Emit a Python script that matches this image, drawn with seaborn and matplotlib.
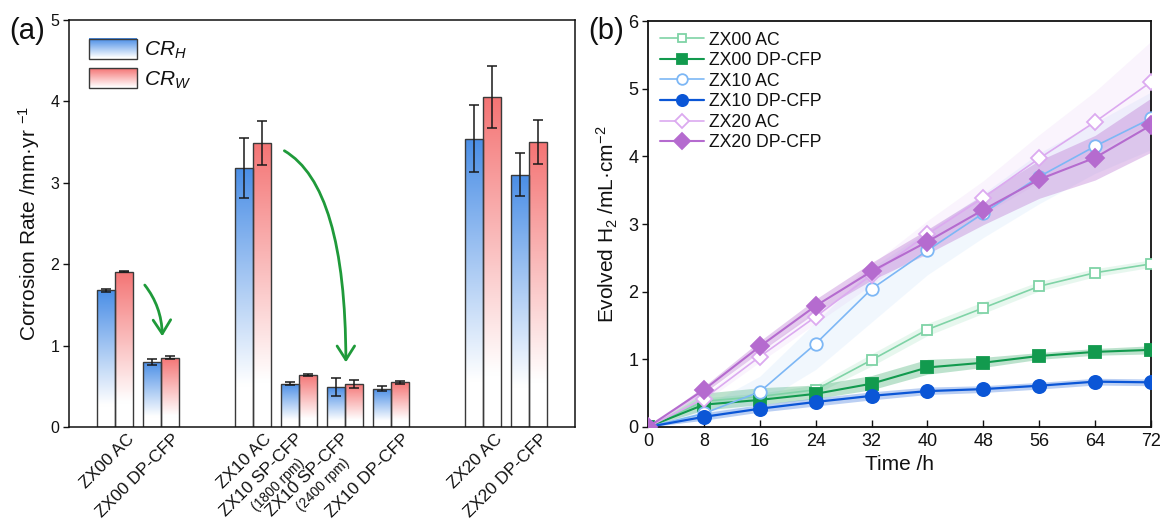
import numpy as np
import pandas as pd
import matplotlib
matplotlib.use("Agg")
import matplotlib.pyplot as plt
import matplotlib.transforms as mtransforms
import seaborn as sns
from matplotlib.colors import LinearSegmentedColormap, to_rgb
from matplotlib.legend_handler import HandlerBase
from matplotlib.patches import Rectangle

# ---------------- data: panel (a) ----------------
samples = ["ZX00 AC", "ZX00 DP-CFP", "ZX10 AC", "ZX10 SP-CFP", "ZX10 SP-CFP",
           "ZX10 DP-CFP", "ZX20 AC", "ZX20 DP-CFP"]
sample_notes = ["", "", "", "(1800 rpm)", "(2400 rpm)", "", "", ""]
alloy = ["ZX00", "ZX00", "ZX10", "ZX10", "ZX10", "ZX10", "ZX20", "ZX20"]
cr_h = [1.68, 0.80, 3.18, 0.53, 0.49, 0.47, 3.54, 3.10]
cr_h_err = [0.02, 0.04, 0.37, 0.02, 0.11, 0.03, 0.41, 0.26]
cr_w = [1.91, 0.85, 3.49, 0.64, 0.53, 0.55, 4.05, 3.50]
cr_w_err = [0.01, 0.02, 0.27, 0.01, 0.05, 0.02, 0.38, 0.27]

# ---------------- data: panel (b) ----------------
times = [0, 8, 16, 24, 32, 40, 48, 56, 64, 72]
zx00_ac = [0, 0.38, 0.45, 0.55, 0.99, 1.44, 1.76, 2.08, 2.28, 2.41]
zx00_dp = [0, 0.33, 0.40, 0.49, 0.64, 0.88, 0.95, 1.05, 1.11, 1.14]
zx10_ac = [0, 0.20, 0.52, 1.23, 2.04, 2.61, 3.16, 3.70, 4.15, 4.56]
zx10_dp = [0, 0.15, 0.27, 0.37, 0.46, 0.53, 0.56, 0.61, 0.67, 0.66]
zx20_ac = [0, 0.42, 1.04, 1.63, 2.25, 2.85, 3.39, 3.97, 4.51, 5.10]
zx20_dp = [0, 0.55, 1.19, 1.79, 2.30, 2.74, 3.21, 3.66, 3.98, 4.46]

zx00_ac_lo = [0, 0.33, 0.40, 0.49, 0.90, 1.35, 1.68, 2.01, 2.22, 2.36]
zx00_ac_hi = [0, 0.43, 0.50, 0.62, 1.08, 1.53, 1.85, 2.15, 2.34, 2.47]
zx00_dp_lo = [0, 0.25, 0.33, 0.42, 0.55, 0.78, 0.88, 1.00, 1.06, 1.08]
zx00_dp_hi = [0, 0.50, 0.58, 0.62, 0.76, 1.00, 1.03, 1.10, 1.16, 1.20]
zx10_ac_lo = [0, 0.10, 0.35, 0.85, 1.55, 2.25, 2.80, 3.30, 3.75, 4.10]
zx10_ac_hi = [0, 0.30, 0.75, 1.55, 2.35, 2.90, 3.45, 4.05, 4.50, 4.95]
zx10_dp_lo = [0, 0.10, 0.22, 0.31, 0.40, 0.48, 0.51, 0.56, 0.62, 0.61]
zx10_dp_hi = [0, 0.21, 0.33, 0.43, 0.52, 0.59, 0.61, 0.66, 0.72, 0.71]
zx20_ac_lo = [0, 0.37, 0.96, 1.53, 2.10, 2.65, 3.14, 3.62, 4.06, 4.50]
zx20_ac_hi = [0, 0.47, 1.12, 1.73, 2.40, 3.05, 3.64, 4.32, 4.96, 5.70]
zx20_dp_lo = [0, 0.50, 1.11, 1.69, 2.17, 2.56, 2.99, 3.38, 3.65, 4.06]
zx20_dp_hi = [0, 0.60, 1.27, 1.89, 2.43, 2.92, 3.43, 3.94, 4.31, 4.86]

series_names = ["ZX00 AC", "ZX00 DP-CFP", "ZX10 AC", "ZX10 DP-CFP", "ZX20 AC", "ZX20 DP-CFP"]

# ---------------- style ----------------
sns.set_theme(style="ticks")
plt.rcParams["font.family"] = ["Liberation Sans", "DejaVu Sans"]
plt.rcParams["mathtext.fontset"] = "custom"
plt.rcParams["mathtext.rm"] = "Liberation Sans"
plt.rcParams["mathtext.it"] = "Liberation Sans:italic"
plt.rcParams["axes.edgecolor"] = "#111111"
plt.rcParams["axes.linewidth"] = 1.1
for k in ["text.color", "axes.labelcolor", "xtick.color", "ytick.color"]:
    plt.rcParams[k] = "#111111"

BLUE = "#4a8ee6"
RED = "#f47474"

fig = plt.figure(figsize=(11.63, 5.19), dpi=100)
axA = fig.add_axes([0.0593, 0.1773, 0.4351, 0.7842])
axB = fig.add_axes([0.5572, 0.1773, 0.4325, 0.7822])

# ---------------- panel (a) ----------------
groups = list(dict.fromkeys(alloy))
pos = [i + groups.index(a) for i, a in enumerate(alloy)]
slot_names = [str(k) for k in range(max(pos) + 1)]
dfA = pd.DataFrame({
    "slot": [str(p) for p in pos] * 2,
    "val": cr_h + cr_w,
    "err": cr_h_err + cr_w_err,
    "kind": ["H"] * len(pos) + ["W"] * len(pos),
})
sns.barplot(data=dfA, x="slot", y="val", hue="kind", order=slot_names,
            hue_order=["H", "W"], palette={"H": BLUE, "W": RED}, saturation=1,
            errorbar=None, legend=False, width=0.8,
            edgecolor="#3a3a3a", linewidth=1.0, ax=axA)


def grad_cmap(color):
    return LinearSegmentedColormap.from_list(
        "g", [(0, "white"), (0.16, "white"), (1, color)])


cm_b, cm_r = grad_cmap(BLUE), grad_cmap(RED)
grad = np.linspace(0, 1, 256).reshape(-1, 1)
blue_rgb = np.array(to_rgb(BLUE))
red_rgb = np.array(to_rgb(RED))
bars = []
for patch in list(axA.patches):
    h = patch.get_height()
    if h <= 0 or not np.isfinite(h):
        continue
    fc = np.array(patch.get_facecolor()[:3])
    is_blue = np.linalg.norm(fc - blue_rgb) < np.linalg.norm(fc - red_rgb)
    bars.append((patch, is_blue))

ex, ey, ee = [], [], []
for patch, is_blue in bars:
    x0, y0 = patch.get_x(), patch.get_y()
    w, h = patch.get_width(), patch.get_height()
    im = axA.imshow(grad, extent=[x0, x0 + w, y0, y0 + h], origin="lower",
                    cmap=cm_b if is_blue else cm_r, aspect="auto", zorder=1.5,
                    interpolation="bicubic")
    im.set_clip_path(patch.get_path(), patch.get_transform())
    patch.set_facecolor("none")
    patch.set_zorder(2)
    xc = x0 + w / 2
    kind = "H" if is_blue else "W"
    slot = str(int(round(xc)))
    row = dfA[(dfA["kind"] == kind) & (dfA["slot"] == slot)]
    ex.append(xc)
    ey.append(h)
    ee.append(float(row["err"].iloc[0]))
axA.errorbar(ex, ey, yerr=ee, fmt="none", ecolor="#1a1a1a", elinewidth=1.1,
             capsize=3.8, capthick=1.1, zorder=3)

# arrows
arrow_kw = dict(arrowstyle="->,head_length=0.55,head_width=0.35", color="#1f9a3a",
                lw=2.0, mutation_scale=18)
axA.annotate("", xy=(1.03, 1.08), xytext=(0.61, 1.77),
             arrowprops=dict(connectionstyle="angle3,angleA=-50,angleB=90", **arrow_kw))
axA.annotate("", xy=(5.02, 0.76), xytext=(3.63, 3.41),
             arrowprops=dict(connectionstyle="angle3,angleA=-28,angleB=90", **arrow_kw))

axA.set_xticks(pos)
axA.set_xticklabels([s if not n else "" for s, n in zip(samples, sample_notes)],
                    rotation=45, ha="right", va="top",
                    rotation_mode="anchor", fontsize=12.5)
axA.tick_params(axis="x", length=0, pad=3)
axA.tick_params(axis="y", direction="out", length=4, width=1, labelsize=11.5, pad=3)
shift = mtransforms.ScaledTranslation(8 / 72, 0, fig.dpi_scale_trans)
for lbl in axA.get_xticklabels():
    lbl.set_transform(lbl.get_transform() + shift)
for p, s, note in zip(pos, samples, sample_notes):
    if note:
        axA.annotate(s, xy=(p, 0), xycoords=("data", "axes fraction"),
                     xytext=(-3, -3), textcoords="offset points",
                     rotation=45, ha="right", va="top", rotation_mode="anchor",
                     fontsize=12.5)
        axA.annotate(note, xy=(p, 0), xycoords=("data", "axes fraction"),
                     xytext=(-1.5, -21), textcoords="offset points",
                     rotation=45, ha="right", va="top", rotation_mode="anchor",
                     fontsize=10)
axA.set_xlabel("")
axA.set_ylabel("Corrosion Rate /mm·yr $^{-1}$", fontsize=15, labelpad=6)
for s in axA.spines.values():
    s.set_visible(True)


class GradHandler(HandlerBase):
    def __init__(self, color):
        super().__init__()
        self.color = np.array(to_rgb(color))

    def create_artists(self, legend, orig_handle, xdescent, ydescent, width,
                       height, fontsize, trans):
        arts = []
        n = 40
        for i in range(n):
            f = (i + 0.5) / n
            t = max(0.0, (f - 0.05) / 0.95)
            c = (1 - t) * np.ones(3) + t * self.color
            arts.append(Rectangle((-xdescent, -ydescent + i * height / n), width,
                                  height / n + 0.2, facecolor=c, edgecolor="none",
                                  transform=trans))
        arts.append(Rectangle((-xdescent, -ydescent), width, height,
                              facecolor="none", edgecolor="#3a3a3a", lw=1.0,
                              transform=trans))
        return arts


hb = Rectangle((0, 0), 1, 1)
hr = Rectangle((0, 0), 1, 1)
axA.legend([hb, hr], ["$CR_H$", "$CR_W$"],
           handler_map={hb: GradHandler(BLUE), hr: GradHandler(RED)},
           loc="upper left", bbox_to_anchor=(0.015, 0.985), frameon=False,
           fontsize=15, handlelength=2.3, handleheight=1.1, labelspacing=0.35,
           handletextpad=0.35, borderaxespad=0.2)

# ---------------- panel (b) ----------------
vals = [zx00_ac, zx00_dp, zx10_ac, zx10_dp, zx20_ac, zx20_dp]
los = [zx00_ac_lo, zx00_dp_lo, zx10_ac_lo, zx10_dp_lo, zx20_ac_lo, zx20_dp_lo]
his = [zx00_ac_hi, zx00_dp_hi, zx10_ac_hi, zx10_dp_hi, zx20_ac_hi, zx20_dp_hi]
colors = ["#7fd3a6", "#129a4e", "#7db7f5", "#0b56d6", "#dcaaf0", "#b56bcf"]
band_alpha = [0.18, 0.28, 0.10, 0.28, 0.13, 0.35]
markers = ["s", "s", "o", "o", "D", "D"]
filled = [False, True, False, True, False, True]
msizes = [7.5, 8, 9, 9.5, 8, 9]
lws = [1.2, 1.5, 1.2, 1.6, 1.2, 1.5]

for name, v, lo, hi, c, a in zip(series_names, vals, los, his, colors, band_alpha):
    axB.fill_between(times, lo, hi, color=c, alpha=a, lw=0, zorder=1)

for name, v, c, m, f, ms, lw in zip(series_names, vals, colors, markers, filled, msizes, lws):
    sns.lineplot(x=times, y=v, ax=axB, color=c, marker=m, markersize=ms,
                 markerfacecolor=c if f else "white", markeredgecolor=c,
                 markeredgewidth=1.3, lw=lw, label=name, zorder=3)

axB.set_xticks(times)
axB.set_yticks([0, 1, 2, 3, 4, 5, 6])
axB.tick_params(axis="x", direction="in", length=5, width=1, labelsize=13, pad=4)
axB.tick_params(axis="y", direction="out", length=4, width=1, labelsize=13, pad=3)
axB.set_xlabel("Time /h", fontsize=15, labelpad=4)
axB.set_ylabel("Evolved H$_2$ /mL·cm$^{-2}$", fontsize=15, labelpad=6)
for s in axB.spines.values():
    s.set_visible(True)
    s.set_linewidth(1.3)
axB.legend(loc="upper left", bbox_to_anchor=(0.003, 1.0), frameon=False,
           fontsize=12.7, handlelength=2.5, labelspacing=0.2, handletextpad=0.25,
           borderaxespad=0.3, borderpad=0.3, markerscale=0.85)

fig.text(0.008, 0.94, "(a)", fontsize=21, va="center", ha="left")
fig.text(0.506, 0.94, "(b)", fontsize=21, va="center", ha="left")

axA.set_xlim(-1, 10)
axA.set_ylim(0, 5)
axB.set_xlim(0, 72)
axB.set_ylim(0, 6)

fig.savefig("out.png", dpi=100)
